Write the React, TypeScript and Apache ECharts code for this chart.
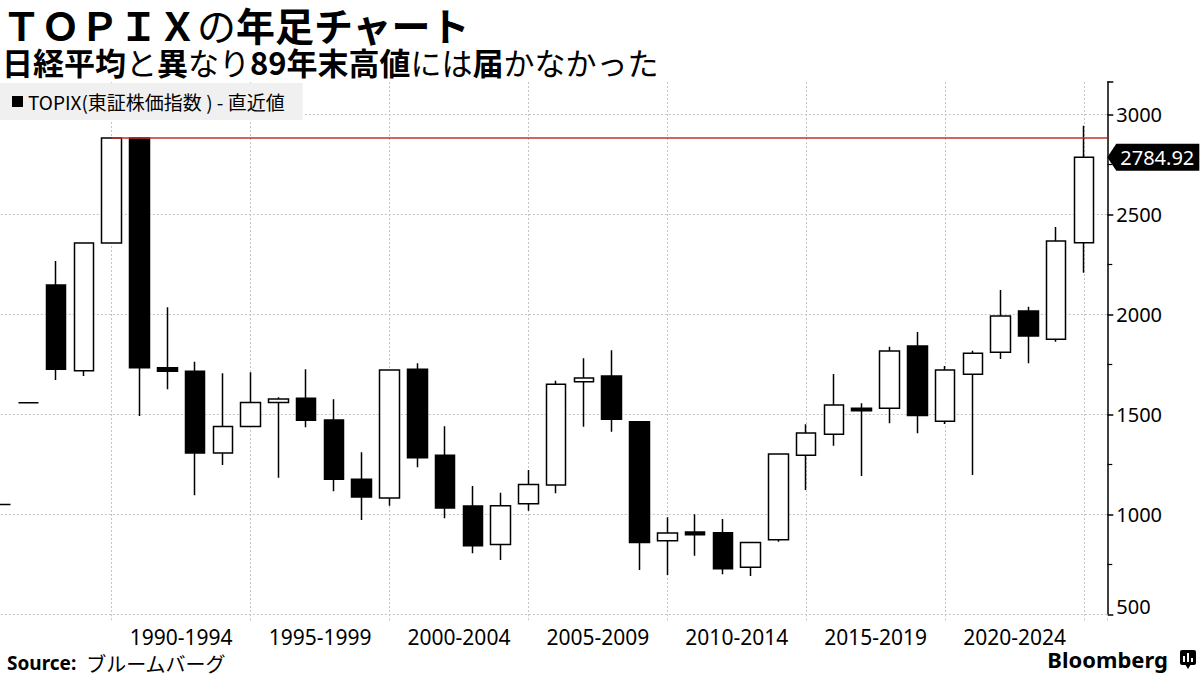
import React, { useEffect, useRef } from "react";
import * as echarts from "echarts";

// ---- data (yearly candles of TOPIX) ----
const years = [
  1985, 1986, 1987, 1988, 1989, 1990, 1991, 1992, 1993, 1994,
  1995, 1996, 1997, 1998, 1999, 2000, 2001, 2002, 2003, 2004,
  2005, 2006, 2007, 2008, 2009, 2010, 2011, 2012, 2013, 2014,
  2015, 2016, 2017, 2018, 2019, 2020, 2021, 2022, 2023, 2024,
];
const opens = [
  1049, 1558, 2146, 1718, 2357, 2881.37, 1733, 1715, 1307, 1439,
  1559, 1580, 1471, 1175, 1082, 1725, 1295, 1041, 849, 1053,
  1146, 1663, 1691, 1463, 868, 911, 908, 735, 873, 1295,
  1400, 1530, 1530, 1841, 1465, 1700, 1810, 2016, 1875, 2358,
];
const closes = [
  1049, 1558, 1725, 2357, 2881.37, 1733, 1715, 1307, 1439, 1559,
  1577, 1470, 1175, 1086, 1722, 1283, 1032, 843, 1043, 1149,
  1650, 1681, 1475, 859, 907, 898, 728, 859, 1302, 1407,
  1547, 1518, 1817, 1494, 1721, 1805, 1992, 1892, 2366, 2784.92,
];
const lows = [
  1049, 1558, 1672, 1692, 2357, 1491, 1625, 1095, 1246, 1439,
  1183, 1435, 1115, 971, 1043, 1235, 980, 805, 771, 1018,
  1105, 1438, 1413, 721, 697, 793, 700, 692, 863, 1121,
  1343, 1191, 1455, 1405, 1451, 1197, 1776, 1755, 1863, 2208,
];
const highs = [
  1049, 1558, 2266, 2357, 2884, 2886, 2035, 1763, 1705, 1710,
  1585, 1725, 1575, 1310, 1722, 1755, 1440, 1141, 1108, 1222,
  1668, 1780, 1820, 1463, 985, 1000, 976, 862, 1302, 1450,
  1702, 1555, 1838, 1911, 1741, 1818, 2122, 2038, 2437, 2943,
];
const periodStarts = [1990, 1995, 2000, 2005, 2010, 2015, 2020];
const peakYear = 1989;
const peakClose = 2881.37;
const legendName = "TOPIX(東証株価指数 ) - 直近値";

const CJK = "'Noto Sans CJK JP', 'Noto Sans', sans-serif";
const LAT = "'Noto Sans', 'DejaVu Sans', sans-serif";

// candles are placed at year-end (= start of following year)
const xMin = 1985;
const xMax = 2025.84;
const yMin = 500;
const yMax = 3161.5;

export default function App() {
  const ref = useRef<HTMLDivElement>(null);

  useEffect(() => {
    if (!ref.current) return;
    const chart = echarts.init(ref.current, undefined, { renderer: "svg" });
    const lastClose = closes[closes.length - 1];
    const candleData = years.map((y, i) => [y + 1, opens[i], closes[i], lows[i], highs[i]]);
    const grid = { color: "#c4c4c4", width: 1, type: [2, 2] as any };

    const option: any = {
      animation: false,
      backgroundColor: "#ffffff",
      textStyle: { fontFamily: LAT },
      title: [
        {
          left: 2,
          top: 4,
          padding: 0,
          text: "{b|ＴＯＰＩＸ}{r|の}{b|年足チャート}",
          textStyle: {
            fontSize: 39,
            lineHeight: 40,
            fontFamily: CJK,
            color: "#000",
            rich: {
              b: { fontSize: 39, lineHeight: 40, fontWeight: "bold", fontFamily: CJK, color: "#000" },
              r: { fontSize: 39, lineHeight: 40, fontWeight: "normal", fontFamily: CJK, color: "#000" },
            },
          },
        },
        {
          left: 2,
          top: 46,
          padding: 0,
          text:
            "{b|日経平均}{r|と}{b|異}{r|なり}{b|89年末高値}{r|には}{b|届}{r|かなかった}",
          textStyle: {
            fontSize: 31,
            lineHeight: 31,
            fontFamily: CJK,
            color: "#000",
            rich: {
              b: { fontSize: 31, lineHeight: 31, fontWeight: "bold", fontFamily: CJK, color: "#000" },
              r: { fontSize: 31, lineHeight: 31, fontWeight: "normal", fontFamily: CJK, color: "#000" },
            },
          },
        },
        {
          left: 7,
          top: 653,
          padding: 0,
          text: "{b|Source:}  {r|ブルームバーグ}",
          textStyle: {
            fontSize: 19,
            color: "#000",
            rich: {
              b: { fontSize: 19, fontWeight: "bold", fontFamily: LAT, color: "#000" },
              r: { fontSize: 20, fontWeight: "normal", fontFamily: CJK, color: "#000" },
            },
          },
        },
        {
          right: 32,
          top: 648,
          padding: 0,
          text: "Bloomberg",
          textStyle: { fontSize: 22, fontWeight: "bold", fontFamily: LAT, color: "#000" },
        },
      ],
      graphic: [
        { type: "rect", shape: { x: 1180, y: 650, width: 16, height: 15, r: 2 }, style: { fill: "#000" } },
        { type: "polygon", shape: { points: [[1185, 664], [1191, 664], [1188, 669]] }, style: { fill: "#000" } },
        { type: "rect", shape: { x: 1183, y: 656, width: 2, height: 6 }, style: { fill: "#fff" } },
        { type: "rect", shape: { x: 1187, y: 653, width: 2, height: 9 }, style: { fill: "#fff" } },
        { type: "rect", shape: { x: 1191, y: 658, width: 2, height: 4 }, style: { fill: "#fff" } },
      ],
      legend: {
        show: true,
        left: 0,
        top: 83,
        padding: [9, 18, 9, 12],
        backgroundColor: "#f0f0f0",
        itemWidth: 11,
        itemHeight: 11,
        icon: "rect",
        selectedMode: false,
        textStyle: { fontSize: 19, color: "#000", fontFamily: CJK },
        data: [{ name: legendName, icon: "rect", itemStyle: { color: "#000", borderWidth: 0 } }],
      },
      grid: {
        left: -27.2,
        right: 92.7,
        top: 82,
        bottom: 60.7,
        containLabel: false,
        outerBoundsMode: "none",
      },
      xAxis: {
        type: "value",
        min: xMin,
        max: xMax,
        interval: 5,
        axisLine: { show: false },
        axisTick: { show: true, length: 8, lineStyle: grid },
        splitLine: { show: true, showMinLine: false, showMaxLine: false, lineStyle: grid },
        axisLabel: {
          show: true,
          margin: 12,
          fontSize: 21,
          color: "#000",
          fontFamily: LAT,
          align: "center",
          padding: [0, 0, 0, 139],
          formatter: (v: number) => (periodStarts.includes(v) ? `${v}-${v + 4}` : ""),
        },
      },
      yAxis: {
        type: "value",
        position: "right",
        min: yMin,
        max: yMax,
        interval: 500,
        axisLine: { show: true, lineStyle: { color: "#000", width: 1.5 } },
        axisTick: { show: true, length: 6, lineStyle: { color: "#000", width: 1.5 } },
        minorTick: { show: true, splitNumber: 2, length: 5, lineStyle: { color: "#000", width: 1.2 } },
        splitLine: { show: true, showMaxLine: false, lineStyle: grid },
        axisLabel: {
          show: true,
          margin: 9,
          fontSize: 20,
          lineHeight: 16,
          color: "#000",
          fontFamily: LAT,
          formatter: (v: number) => (v % 500 !== 0 ? "" : v === 500 ? "500\n" : String(v)),
        },
      },
      series: [
        {
          type: "candlestick",
          name: legendName,
          data: candleData,
          barWidth: 20,
          itemStyle: {
            color: "#ffffff",
            color0: "#000000",
            borderColor: "#000000",
            borderColor0: "#000000",
            borderColorDoji: "#000000",
            borderWidth: 1.5,
          },
          markLine: {
            silent: true,
            symbol: ["none", "none"],
            label: { show: false },
            lineStyle: { color: "#c0302a", width: 1.5, type: "solid" },
            data: [[{ coord: [peakYear + 1, peakClose] }, { coord: [xMax, peakClose] }]],
          },
          markPoint: {
            silent: true,
            symbol: "path://M0,13.5L9,0L92,0L92,27L9,27Z",
            symbolSize: [92, 27],
            symbolOffset: [46, 0],
            itemStyle: { color: "#000" },
            label: {
              show: true,
              position: "inside",
              offset: [4, 0],
              color: "#fff",
              fontSize: 20,
              fontFamily: LAT,
              formatter: lastClose.toFixed(2),
            },
            data: [{ coord: [xMax, lastClose] }],
          },
        },
      ],
    };

    chart.setOption(option);
    return () => chart.dispose();
  }, []);

  return (
    <div
      ref={ref}
      style={{ position: "absolute", left: 0, top: 0, width: 1200, height: 675 }}
    />
  );
}
